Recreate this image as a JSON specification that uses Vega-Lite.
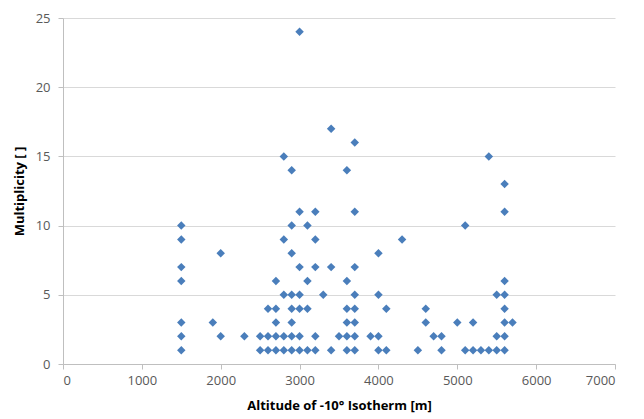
{
  "$schema": "https://vega.github.io/schema/vega-lite/v6.json",
  "width": 552,
  "height": 346,
  "autosize": {"type": "none"},
  "padding": {"left": 63, "top": 18, "right": 29, "bottom": 55},
  "background": "white",
  "config": {
    "view": {"stroke": null},
    "font": "Open Sans"
  },
  "data": {
    "values": [
      {"alt": 1500, "mult": 10}, {"alt": 1500, "mult": 9}, {"alt": 1500, "mult": 7}, {"alt": 1500, "mult": 6}, {"alt": 1500, "mult": 3}, {"alt": 1500, "mult": 2}, {"alt": 1500, "mult": 1},
      {"alt": 1900, "mult": 3},
      {"alt": 2000, "mult": 8}, {"alt": 2000, "mult": 2},
      {"alt": 2300, "mult": 2},
      {"alt": 2500, "mult": 2}, {"alt": 2500, "mult": 1},
      {"alt": 2600, "mult": 4}, {"alt": 2600, "mult": 2}, {"alt": 2600, "mult": 1},
      {"alt": 2700, "mult": 6}, {"alt": 2700, "mult": 4}, {"alt": 2700, "mult": 3}, {"alt": 2700, "mult": 2}, {"alt": 2700, "mult": 1},
      {"alt": 2800, "mult": 15}, {"alt": 2800, "mult": 9}, {"alt": 2800, "mult": 5}, {"alt": 2800, "mult": 2}, {"alt": 2800, "mult": 1},
      {"alt": 2900, "mult": 14}, {"alt": 2900, "mult": 10}, {"alt": 2900, "mult": 8}, {"alt": 2900, "mult": 5}, {"alt": 2900, "mult": 4}, {"alt": 2900, "mult": 3}, {"alt": 2900, "mult": 2}, {"alt": 2900, "mult": 1},
      {"alt": 3000, "mult": 24}, {"alt": 3000, "mult": 11}, {"alt": 3000, "mult": 7}, {"alt": 3000, "mult": 5}, {"alt": 3000, "mult": 4}, {"alt": 3000, "mult": 2}, {"alt": 3000, "mult": 1},
      {"alt": 3100, "mult": 10}, {"alt": 3100, "mult": 6}, {"alt": 3100, "mult": 4}, {"alt": 3100, "mult": 1},
      {"alt": 3200, "mult": 11}, {"alt": 3200, "mult": 9}, {"alt": 3200, "mult": 7}, {"alt": 3200, "mult": 2}, {"alt": 3200, "mult": 1},
      {"alt": 3300, "mult": 5},
      {"alt": 3400, "mult": 17}, {"alt": 3400, "mult": 7}, {"alt": 3400, "mult": 1},
      {"alt": 3500, "mult": 2},
      {"alt": 3600, "mult": 14}, {"alt": 3600, "mult": 6}, {"alt": 3600, "mult": 4}, {"alt": 3600, "mult": 3}, {"alt": 3600, "mult": 2}, {"alt": 3600, "mult": 1},
      {"alt": 3700, "mult": 16}, {"alt": 3700, "mult": 11}, {"alt": 3700, "mult": 7}, {"alt": 3700, "mult": 5}, {"alt": 3700, "mult": 4}, {"alt": 3700, "mult": 3}, {"alt": 3700, "mult": 2}, {"alt": 3700, "mult": 1},
      {"alt": 3900, "mult": 2},
      {"alt": 4000, "mult": 8}, {"alt": 4000, "mult": 5}, {"alt": 4000, "mult": 2}, {"alt": 4000, "mult": 1},
      {"alt": 4100, "mult": 4}, {"alt": 4100, "mult": 1},
      {"alt": 4300, "mult": 9},
      {"alt": 4500, "mult": 1},
      {"alt": 4600, "mult": 4}, {"alt": 4600, "mult": 3},
      {"alt": 4700, "mult": 2},
      {"alt": 4800, "mult": 2}, {"alt": 4800, "mult": 1},
      {"alt": 5000, "mult": 3},
      {"alt": 5100, "mult": 10}, {"alt": 5100, "mult": 1},
      {"alt": 5200, "mult": 3}, {"alt": 5200, "mult": 1},
      {"alt": 5300, "mult": 1},
      {"alt": 5400, "mult": 15}, {"alt": 5400, "mult": 1},
      {"alt": 5500, "mult": 5}, {"alt": 5500, "mult": 2}, {"alt": 5500, "mult": 1},
      {"alt": 5600, "mult": 13}, {"alt": 5600, "mult": 11}, {"alt": 5600, "mult": 6}, {"alt": 5600, "mult": 5}, {"alt": 5600, "mult": 4}, {"alt": 5600, "mult": 3}, {"alt": 5600, "mult": 2}, {"alt": 5600, "mult": 1},
      {"alt": 5700, "mult": 3}
    ]
  },
  "mark": {"type": "point", "shape": "diamond", "filled": true, "size": 72, "color": "#4A7EBB", "opacity": 1},
  "encoding": {
    "x": {
      "field": "alt", "type": "quantitative",
      "scale": {"domain": [0, 7000], "nice": false, "zero": true},
      "axis": {
        "title": "Altitude of -10° Isotherm [m]",
        "values": [0, 1000, 2000, 3000, 4000, 5000, 6000, 7000],
        "format": "d",
        "grid": false,
        "domainColor": "#bfbfbf",
        "tickColor": "#bfbfbf",
        "tickSize": 5,
        "labelPadding": 5,
        "labelFontSize": 13,
        "labelColor": "#595959",
        "labelFont": "Open Sans",
        "titleFont": "Open Sans",
        "titleFontSize": 13,
        "titleFontWeight": "bold",
        "titleColor": "#000000",
        "titlePadding": 12
      }
    },
    "y": {
      "field": "mult", "type": "quantitative",
      "scale": {"domain": [0, 25], "nice": false},
      "axis": {
        "title": "Multiplicity [ ]",
        "values": [0, 5, 10, 15, 20, 25],
        "grid": true,
        "gridColor": "#d9d9d9",
        "domainColor": "#bfbfbf",
        "tickColor": "#bfbfbf",
        "tickSize": 5,
        "labelPadding": 8,
        "labelFontSize": 13,
        "labelColor": "#595959",
        "labelFont": "Open Sans",
        "titleFont": "Open Sans",
        "titleFontSize": 13,
        "titleFontWeight": "bold",
        "titleColor": "#000000",
        "titlePadding": 9
      }
    }
  }
}
